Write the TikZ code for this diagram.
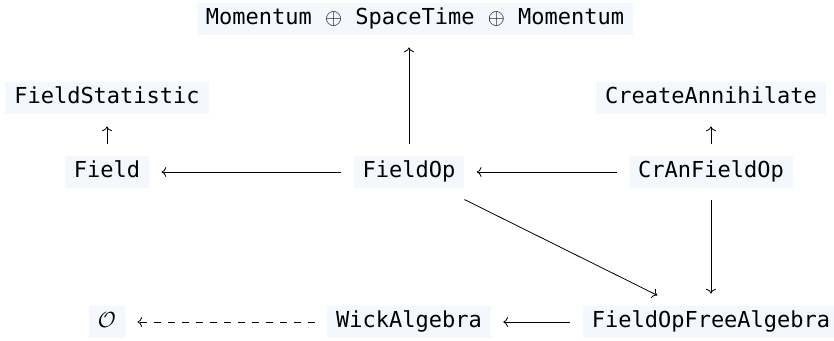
\documentclass[tikz,border=0pt]{standalone}
\usepackage{fontspec}
\setmonofont{DejaVu Sans Mono}
\usetikzlibrary{positioning}
\usetikzlibrary{arrows.meta}
\definecolor{boxbg}{RGB}{244,248,253}

\begin{document}
\begin{tikzpicture}[node distance=75pt,
                    on grid,
                    every node/.style={fill=boxbg,
                      font=\ttfamily\fontsize{11}{13}\selectfont,
                      inner xsep=4.5pt,
                      inner ysep=2.5pt,
                      text height=8.5pt,
                      text depth=2.5pt},
                    arr/.style={-{To[length=2.4pt,width=5pt]},shorten >=6pt,shorten <=6pt}]
\useasboundingbox (0,0) rectangle (417pt,-170.5pt);
\node (fieldop) at (204.5pt,-86pt) {FieldOp};
\node (field) [left=151pt of fieldop] {Field};
\node (cran) [right=151pt of fieldop] {CrAnFieldOp};
\node (mom) [above=76.5pt of fieldop,xshift=3pt] {Momentum $\oplus$ SpaceTime $\oplus$ Momentum};
\node (stat) [above=37pt of field] {FieldStatistic};
\node (create) [above=37pt of cran] {CreateAnnihilate};
\node (wick) [below=of fieldop] {WickAlgebra};
\node (obj) [below=of field] {$\mathcal{O}$};
\node (free) [below=of cran] {FieldOpFreeAlgebra};
\coordinate (momfoot) at (fieldop.north |- mom.south);
% arrows
\draw[arr] (fieldop) -- (field);
\draw[arr] (cran) -- (fieldop);
\draw[arr] (field) -- (stat);
\draw[arr] (cran) -- (create);
\draw[arr] (fieldop) -- (momfoot);
\draw[arr] (cran) -- (free);
\draw[arr,shorten >=30pt,shorten <=31pt] (fieldop.center) -- (free.center);
\draw[arr] (free) -- (wick);
\draw[arr,dash pattern=on 3.5pt off 3.5pt] (wick) -- (obj);
\end{tikzpicture}
\end{document}
